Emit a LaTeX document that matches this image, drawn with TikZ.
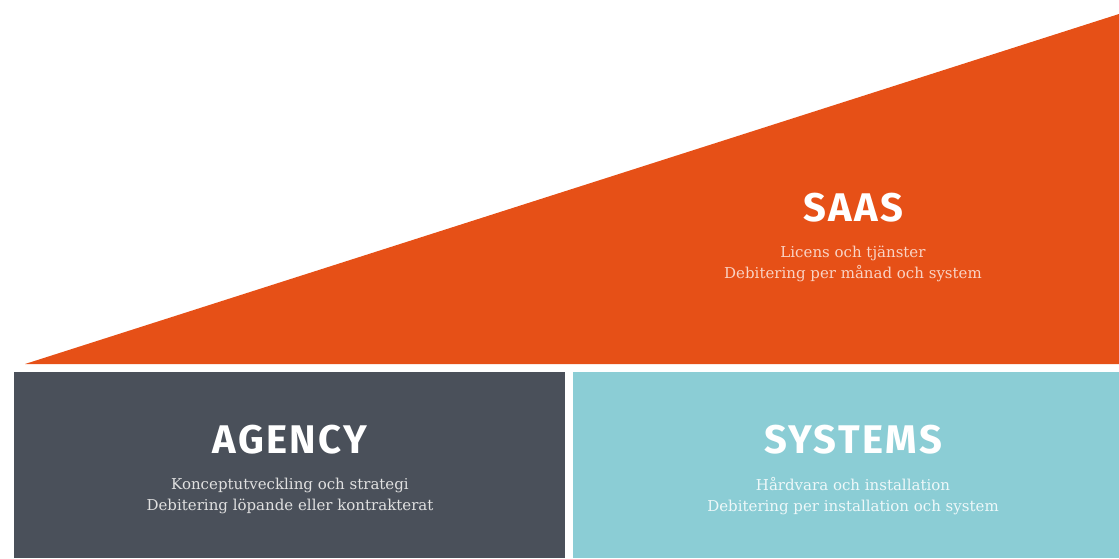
\documentclass[tikz,border=0pt]{standalone}
\usepackage{fontspec}
\setmainfont{DejaVu Serif}
\newfontfamily\headfont[LetterSpace=6]{Fira Sans}
\usetikzlibrary{positioning}
\definecolor{saasorange}{HTML}{E65017}
\definecolor{agencygrey}{HTML}{4A505A}
\definecolor{systemsteal}{HTML}{8BCDD5}
\tikzset{
block/.style = {rectangle, inner sep=0pt, anchor=north west},
heading/.style = {text=white, inner sep=0pt, font=\headfont\bfseries\fontsize{40}{40}\selectfont},
subtext/.style = {align=center, inner sep=0pt, font=\fontsize{15}{21}\selectfont},
}
\begin{document}
\begin{tikzpicture}[x=1pt, y=-1pt]
    \useasboundingbox (0,0) rectangle (1119,558);
    % the wedge
    \coordinate (tip) at (25,364);
    \coordinate (top) at (1119,14);
    \coordinate (corner) at (1119,364);
    \fill [saasorange] (tip) -- (top) -- (corner) -- cycle;
    \node [heading] (saastitle) at (853,208) {SAAS};
    \node [subtext, text=saasorange!25] (saastext) at (853,264) {Licens och tjänster\\Debitering per månad och system};
    % the two boxes
    \node [block, fill=agencygrey, minimum width=551pt, minimum height=186pt] (agency) at (14,372) {};
    \node [block, fill=systemsteal, minimum width=546pt, minimum height=186pt] (systems) at (573,372) {};
    \node [heading] (agencytitle) at (290,440) {AGENCY};
    \node [subtext, text=black!12] (agencytext) at (290,496) {Konceptutveckling och strategi\\Debitering löpande eller kontrakterat};
    \node [heading] (systemstitle) at (853,440) {SYSTEMS};
    \node [subtext, text=white!85!systemsteal] (systemstext) at (853,496) {Hårdvara och installation\\Debitering per installation och system};
\end{tikzpicture}
\end{document}
